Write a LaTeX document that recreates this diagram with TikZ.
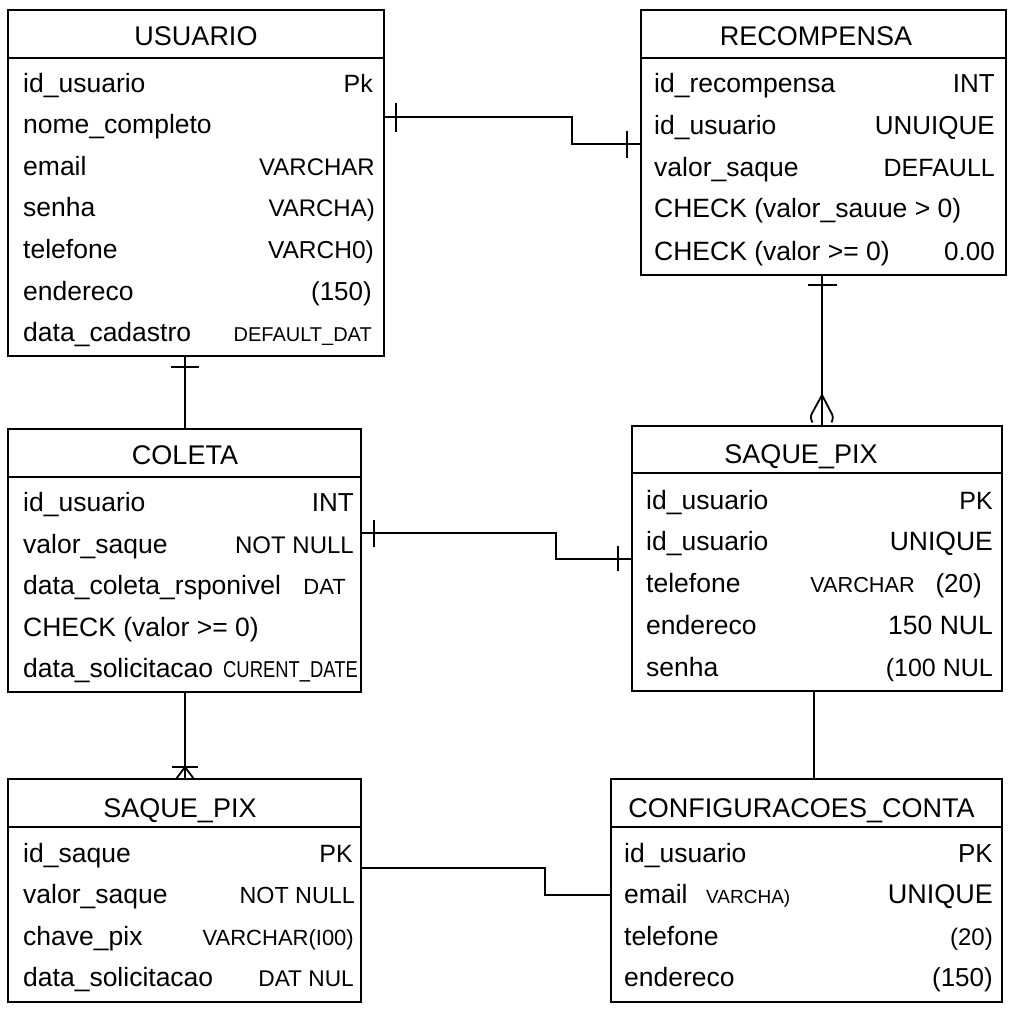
\documentclass[tikz,border=0pt]{standalone}
\usepackage{fontspec}
\setmainfont{Liberation Sans}
\usepackage{graphicx}
\begin{document}
\begin{tikzpicture}[x=1pt,y=-1pt,
  tbl/.style={draw, line width=2pt, anchor=north west, inner sep=0pt, outer sep=0pt},
  hdr/.style={line width=1.8pt},
  ttl/.style={anchor=base, inner sep=0pt, font=\fontsize{27}{30}\selectfont},
  fld/.style={anchor=base west, inner sep=0pt, font=\fontsize{26.5}{30}\selectfont},
  typ/.style={anchor=base east, inner sep=0pt, font=\fontsize{#1}{30}\selectfont},
  typ/.default=25,
  typl/.style={anchor=base west, inner sep=0pt, font=\fontsize{#1}{30}\selectfont},
  conn/.style={line width=1.8pt},
  barmark/.style={line width=1.6pt}
]
\useasboundingbox[fill=white] (0,0) rectangle (1024,1024);

% ---------------- tables ----------------
\node[tbl, minimum width=376pt, minimum height=346pt] (usuario) at (8,10) {};
\draw[hdr] ([yshift=-48pt]usuario.north west) -- ([yshift=-48pt]usuario.north east);
\node[ttl] (usuario-t) at (196,45.5) {USUARIO};
\node[fld] (u1) at (23,92.5) {id\_usuario};
\node[typ=25] (u1t) at (373,92.5) {Pk};
\node[fld] (u2) at (23,134) {nome\_completo};
\node[fld] (u3) at (23,175.5) {email};
\node[typ=24] (u3t) at (375,175.5) {VARCHAR};
\node[fld] (u4) at (23,217) {senha};
\node[typ=24] (u4t) at (375,217) {VARCHA)};
\node[fld] (u5) at (23,258.5) {telefone};
\node[typ=24.5] (u5t) at (374,258.5) {VARCH0)};
\node[fld] (u6) at (23,300) {endereco};
\node[typ=26] (u6t) at (372,300) {(150)};
\node[fld] (u7) at (23,341.5) {data\_cadastro};
\node[typ=20] (u7t) at (372,341.5) {DEFAULT\_DAT};

\node[tbl, minimum width=365pt, minimum height=265pt] (recompensa) at (641,10) {};
\draw[hdr] ([yshift=-48pt]recompensa.north west) -- ([yshift=-48pt]recompensa.north east);
\node[ttl] (recompensa-t) at (816,46) {RECOMPENSA};
\node[fld] (r1) at (654,92.5) {id\_recompensa};
\node[typ=26] (r1t) at (995,92.5) {INT};
\node[fld] (r2) at (654,134.5) {id\_usuario};
\node[typ=26] (r2t) at (995,134.5) {UNUIQUE};
\node[fld] (r3) at (654,176.5) {valor\_saque};
\node[typ=25] (r3t) at (995,176.5) {DEFAULL};
\node[fld] (r4) at (654,218) {CHECK (valor\_sauue > 0)};
\node[fld] (r5) at (654,260) {CHECK (valor >= 0)};
\node[typ=26] (r5t) at (995,260) {0.00};

\node[tbl, minimum width=353pt, minimum height=263pt] (coleta) at (8,429) {};
\draw[hdr] ([yshift=-48pt]coleta.north west) -- ([yshift=-48pt]coleta.north east);
\node[ttl] (coleta-t) at (185,464) {COLETA};
\node[fld] (c1) at (23,511.5) {id\_usuario};
\node[typ=26] (c1t) at (354,511.5) {INT};
\node[fld] (c2) at (23,553) {valor\_saque};
\node[typ=24] (c2t) at (354,553) {NOT NULL};
\node[fld] (c3) at (23,594.5) {data\_coleta\_rsponivel};
\node[typ=22] (c3t) at (346,594.5) {DAT};
\node[fld] (c4) at (23,636) {CHECK (valor >= 0)};
\node[fld] (c5) at (23,677.5) {data\_solicitacao};
\node[typ=23] (c5t) at (358,677.5) {\scalebox{0.8}[1]{CURENT\_DATE}};

\node[tbl, minimum width=370pt, minimum height=265pt] (saque1) at (632,426) {};
\draw[hdr] ([yshift=-47pt]saque1.north west) -- ([yshift=-47pt]saque1.north east);
\node[ttl] (saque1-t) at (801,463) {SAQUE\_PIX};
\node[fld] (s1) at (646,509) {id\_usuario};
\node[typ=25] (s1t) at (993,509) {PK};
\node[fld] (s2) at (646,550.5) {id\_usuario};
\node[typ=26.5] (s2t) at (993,550.5) {UNIQUE};
\node[fld] (s3) at (646,592.5) {telefone};
\node[typ=21.7] (s3t) at (915,592.5) {VARCHAR};
\node[typ=26] (s3u) at (982,592.5) {(20)};
\node[fld] (s4) at (646,634) {endereco};
\node[typ=26.5] (s4t) at (993,634) {150 NUL};
\node[fld] (s5) at (646,676) {senha};
\node[typ=25] (s5t) at (993,676) {(100 NUL};

\node[tbl, minimum width=353pt, minimum height=223pt] (saque2) at (8,779) {};
\draw[hdr] ([yshift=-48pt]saque2.north west) -- ([yshift=-48pt]saque2.north east);
\node[ttl] (saque2-t) at (180,817) {SAQUE\_PIX};
\node[fld] (p1) at (23,862.5) {id\_saque};
\node[typ=25] (p1t) at (353,862.5) {PK};
\node[fld] (p2) at (23,903.5) {valor\_saque};
\node[typ=23.3] (p2t) at (355,903.5) {NOT NULL};
\node[fld] (p3) at (23,945) {chave\_pix};
\node[typ=22] (p3t) at (354,945) {VARCHAR(I00)};
\node[fld] (p4) at (23,986.5) {data\_solicitacao};
\node[typ=22.7] (p4t) at (354,986.5) {DAT NUL};

\node[tbl, minimum width=391pt, minimum height=223pt] (config) at (611,779) {};
\draw[hdr] ([yshift=-48pt]config.north west) -- ([yshift=-48pt]config.north east);
\node[ttl] (config-t) at (801.5,817) {CONFIGURACOES\_CONTA};
\node[fld] (g1) at (624,862.5) {id\_usuario};
\node[typ=26] (g1t) at (993,862.5) {PK};
\node[fld] (g2) at (624,903.5) {email};
\node[typl=19] (g2v) at (706,903.5) {VARCHA)};
\node[typ=27] (g2t) at (993,903.5) {UNIQUE};
\node[fld] (g3) at (624,945) {telefone};
\node[typ=24] (g3t) at (993,945) {(20)};
\node[fld] (g4) at (624,986.5) {endereco};
\node[typ=26] (g4t) at (993,986.5) {(150)};

% ---------------- connectors ----------------
% USUARIO -- RECOMPENSA
\coordinate (jog1) at (572,144);
\draw[conn] ([yshift=-107pt]usuario.north east) -| (jog1) -- ([yshift=-134pt]recompensa.north west);
\draw[barmark] ([xshift=12pt,yshift=-93pt]usuario.north east) -- ++(0,29);
\draw[barmark] ([xshift=-14pt,yshift=-121pt]recompensa.north west) -- ++(0,27);

% RECOMPENSA -- SAQUE_PIX (right)
\draw[conn] ([xshift=-1.5pt]recompensa.south) -- ([xshift=-1.5pt]recompensa.south |- saque1.north);
\draw[barmark] ([xshift=-15.5pt,yshift=-10pt]recompensa.south) -- ++(29,0);
\coordinate (cf1) at ([xshift=5pt,yshift=31pt]saque1.north);
\draw[conn, rounded corners=3pt] (cf1) -- ++(-12,22) -- ++(2.5,5.5);
\draw[conn, rounded corners=3pt] (cf1) -- ++(11.5,22) -- ++(-2,5.5);

% USUARIO -- COLETA
\draw[conn] ([xshift=-11pt]usuario.south) -- ([xshift=-11pt]usuario.south |- coleta.north);
\draw[barmark] ([xshift=-25pt,yshift=-11pt]usuario.south) -- ++(28,0);

% COLETA -- SAQUE_PIX (right)
\coordinate (jog2) at (556,559);
\draw[conn] ([yshift=-104pt]coleta.north east) -| (jog2) -- ([yshift=-133pt]saque1.north west);
\draw[barmark] ([xshift=13pt,yshift=-91pt]coleta.north east) -- ++(0,27);
\draw[barmark] ([xshift=-14pt,yshift=-120pt]saque1.north west) -- ++(0,25);

% COLETA -- SAQUE_PIX (bottom)
\draw[conn] ([xshift=0.5pt]coleta.south) -- ([xshift=0.5pt]coleta.south |- saque2.north);
\draw[barmark] ([xshift=-12.5pt,yshift=12pt]saque2.north) -- ++(26,0);
\coordinate (cf2) at ([xshift=0.5pt,yshift=12pt]saque2.north);
\draw[conn] (cf2) -- ([xshift=-8.5pt]saque2.north);
\draw[conn] (cf2) -- ([xshift=9.5pt]saque2.north);

% SAQUE_PIX (right) -- CONFIGURACOES_CONTA
\draw[conn] ([xshift=-3pt]saque1.south) -- ([xshift=-3pt]saque1.south |- config.north);

% SAQUE_PIX (bottom) -- CONFIGURACOES_CONTA
\coordinate (jog3) at (545,895);
\draw[conn] ([yshift=-89pt]saque2.north east) -| (jog3) -- ([yshift=-116pt]config.north west);
\end{tikzpicture}
\end{document}
